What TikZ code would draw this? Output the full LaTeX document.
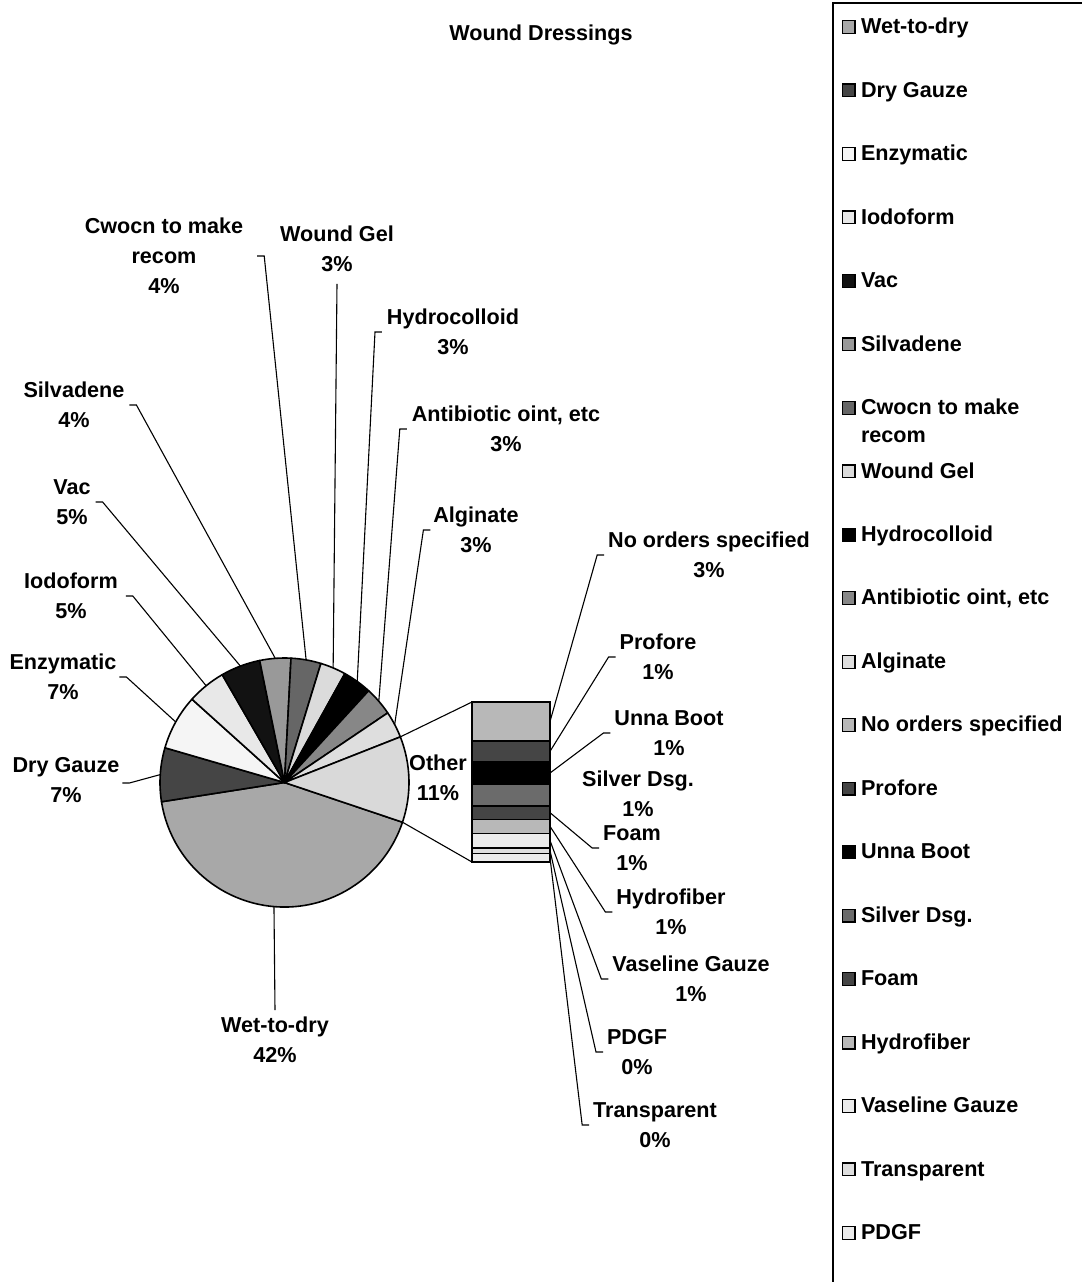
\documentclass[tikz,border=0pt]{standalone}
\usepackage{fontspec}
\setmainfont{Liberation Sans}
\definecolor{cWet}{gray}{0.66}
\definecolor{cDry}{gray}{0.27}
\definecolor{cEnz}{gray}{0.96}
\definecolor{cIodo}{gray}{0.91}
\definecolor{cVac}{gray}{0.07}
\definecolor{cSilv}{gray}{0.60}
\definecolor{cCwocn}{gray}{0.40}
\definecolor{cWG}{gray}{0.86}
\definecolor{cHydro}{gray}{0.0}
\definecolor{cAnti}{gray}{0.53}
\definecolor{cAlg}{gray}{0.87}
\definecolor{cOther}{gray}{0.85}
\definecolor{cNo}{gray}{0.72}
\definecolor{cProf}{gray}{0.27}
\definecolor{cUnna}{gray}{0.0}
\definecolor{cSilver}{gray}{0.42}
\definecolor{cFoam}{gray}{0.27}
\definecolor{cHfib}{gray}{0.72}
\definecolor{cVas}{gray}{0.92}
\definecolor{cTrans}{gray}{0.87}
\definecolor{cPDGF}{gray}{0.92}
\begin{document}
\begin{tikzpicture}[x=0.5pt,y=-0.5pt,
  txt/.style={font=\fontsize{10.8}{15}\selectfont\bfseries, align=center, inner sep=0pt, outer sep=0pt},
  leader/.style={draw=black, line width=0.55pt},
  slice/.style={draw=black, line width=0.8pt, line join=round},
  barseg/.style={draw=black, line width=0.8pt},
  legsq/.style={draw=black, line width=0.6pt, minimum size=6.4pt, inner sep=0pt},
  legtxt/.style={font=\fontsize{10.8}{14}\selectfont\bfseries, inner sep=0pt, outer sep=0pt, align=left}]
\useasboundingbox (0,0) rectangle (1082,1282);
\fill[white] (0,0) rectangle (1082,1282);

% title
\node[txt, anchor=base] (title) at (541,40.7) {Wound Dressings};

% pie
\coordinate (c) at (284.5,782.5);
\foreach \s/\e/\col in {18.6/171.1/cWet, 171.1/196.2/cDry, 196.2/222/cEnz, 222/240/cIodo,
  240/258.5/cVac, 258.5/273/cSilv, 273/287/cCwocn, 287/299/cWG, 299/312.5/cHydro,
  312.5/326/cAnti, 326/338.5/cAlg, 338.5/378.6/cOther}
  \filldraw[slice, fill=\col] (c) -- ++(\s:124.5) arc[start angle=\s, end angle=\e, radius=124.5] -- cycle;

% slice mid points on the rim
\path (c) ++(94.85:124.5) coordinate (pWet);
\path (c) ++(183.65:124.5) coordinate (pDry);
\path (c) ++(209.1:124.5) coordinate (pEnz);
\path (c) ++(231:124.5) coordinate (pIodo);
\path (c) ++(249.25:124.5) coordinate (pVac);
\path (c) ++(265.75:124.5) coordinate (pSilv);
\path (c) ++(280:124.5) coordinate (pCwocn);
\path (c) ++(293:124.5) coordinate (pWG);
\path (c) ++(305.75:124.5) coordinate (pHydro);
\path (c) ++(319.25:124.5) coordinate (pAnti);
\path (c) ++(332.25:124.5) coordinate (pAlg);
\path (c) ++(338.5:124.5) coordinate (pOT);
\path (c) ++(18.6:124.5) coordinate (pOB);

% bar of pie
\foreach \n/\ya/\yb/\col in {No/702/741/cNo, Prof/741/761.7/cProf, Unna/761.7/784.3/cUnna,
  Silver/784.3/806/cSilver, Foam/806/819.3/cFoam, Hfib/819.3/833.3/cHfib,
  Vas/833.3/847.7/cVas, Trans/847.7/853.3/cTrans, PDGF/853.3/862/cPDGF}{
  \filldraw[barseg, fill=\col] (472,\ya) rectangle (550,\yb);
  \coordinate (b\n) at (550,{(\ya+\yb)/2});
}
\coordinate (barTL) at (472,702);
\coordinate (barBL) at (472,862);
\draw[leader] (pOT) -- (barTL);
\draw[leader] (pOB) -- (barBL);

% pie labels
\node[txt] (lCw) at (164,256) {Cwocn to make\\recom\\4\%};
\node[txt] (lWG) at (337,249) {Wound Gel\\3\%};
\node[txt] (lHy) at (453,332) {Hydrocolloid\\3\%};
\node[txt] (lAn) at (506,429) {Antibiotic oint, etc\\3\%};
\node[txt] (lAl) at (476,530) {Alginate\\3\%};
\node[txt] (lSi) at (74,405) {Silvadene\\4\%};
\node[txt] (lVa) at (72,502) {Vac\\5\%};
\node[txt] (lIo) at (71,596) {Iodoform\\5\%};
\node[txt] (lEn) at (63,677) {Enzymatic\\7\%};
\node[txt] (lDr) at (66,780) {Dry Gauze\\7\%};
\node[txt] (lWe) at (275,1040) {Wet-to-dry\\42\%};
\node[txt] (lOt) at (438,778) {Other\\11\%};
\node[txt] (lNo) at (709,555) {No orders specified\\3\%};
\node[txt] (lPr) at (658,657) {Profore\\1\%};
\node[txt] (lUn) at (669,733) {Unna Boot\\1\%};
\node[txt] (lSv) at (638,794) {Silver Dsg.\\1\%};
\node[txt] (lFo) at (632,848) {Foam\\1\%};
\node[txt] (lHf) at (671,912) {Hydrofiber\\1\%};
\node[txt] (lVs) at (691,979) {Vaseline Gauze\\1\%};
\node[txt] (lPD) at (637,1052) {PDGF\\0\%};
\node[txt] (lTr) at (655,1125) {Transparent\\0\%};

% leaders, left side labels
\draw[leader] ([xshift=7pt]lCw.east) -- ++(3.5pt,0) -- (pCwocn);
\draw[leader] ([xshift=2.5pt]lSi.east) -- ++(3.5pt,0) -- (pSilv);
\draw[leader] ([xshift=2.5pt]lVa.east) -- ++(3.5pt,0) -- (pVac);
\draw[leader] ([xshift=4pt]lIo.east) -- ++(3.5pt,0) -- (pIodo);
\draw[leader] ([xshift=1.5pt]lEn.east) -- ++(3.5pt,0) -- (pEnz);
\draw[leader] ([xshift=1.5pt,yshift=-1.5pt]lDr.east) -- ++(3.5pt,0) -- (pDry);
% leaders, right side labels
\draw[leader] ([yshift=-6pt]lWG.south) -- (pWG);
\draw[leader] ([xshift=-2.5pt]lHy.west) -- ++(-3.5pt,0) -- (pHydro);
\draw[leader] ([xshift=-2.5pt]lAn.west) -- ++(-3.5pt,0) -- (pAnti);
\draw[leader] ([xshift=-1.5pt]lAl.west) -- ++(-3.5pt,0) -- (pAlg);
\draw[leader] (pWet) -- ([yshift=3.5pt]lWe.north);
% leaders, bar labels
\draw[leader] ([xshift=-2pt]lNo.west) -- ++(-3.5pt,0) -- (bNo);
\draw[leader] ([xshift=-2pt]lPr.west) -- ++(-3.5pt,0) -- (bProf);
\draw[leader] ([xshift=-2pt]lUn.west) -- ++(-3.5pt,0) -- (bUnna);
\draw[leader] ([xshift=-2pt]lFo.west) -- ++(-3.5pt,0) -- (bFoam);
\draw[leader] ([xshift=-2pt]lHf.west) -- ++(-3.5pt,0) -- (bHfib);
\draw[leader] ([xshift=-2pt]lVs.west) -- ++(-3.5pt,0) -- (bVas);
\draw[leader] ([xshift=-2pt]lPD.west) -- ++(-3.5pt,0) -- (bTrans);
\draw[leader] ([xshift=-2pt]lTr.west) -- ++(-3.5pt,0) -- (bPDGF);

% legend
\draw[line width=0.75pt] (833,1282) -- (833,3) -- (1082,3);
\foreach \i/\col/\t in {0/cWet/Wet-to-dry, 1/cDry/Dry Gauze, 2/cEnz/Enzymatic, 3/cIodo/Iodoform,
  4/cVac/Vac, 5/cSilv/Silvadene, 7/cWG/Wound Gel, 8/cHydro/Hydrocolloid,
  9/cAnti/{Antibiotic oint, etc}, 10/cAlg/Alginate, 11/cNo/No orders specified,
  12/cProf/Profore, 13/cUnna/Unna Boot, 14/cSilver/Silver Dsg., 15/cFoam/Foam,
  16/cHfib/Hydrofiber, 17/cVas/Vaseline Gauze, 18/cTrans/Transparent, 19/cPDGF/PDGF}{
  \pgfmathsetmacro\yy{26+63.47*\i}
  \node[legsq, fill=\col] (lsq\i) at (848.5,\yy+1) {};
  \node[legtxt, anchor=base west] (ltx\i) at (861,\yy+7.7) {\t};
}
\node[legsq, fill=cCwocn] (lsq6) at (848.5,407.8) {};
\node[legtxt, anchor=north west] (ltx6) at (861,398.8) {Cwocn to make\\recom};
\end{tikzpicture}
\end{document}
